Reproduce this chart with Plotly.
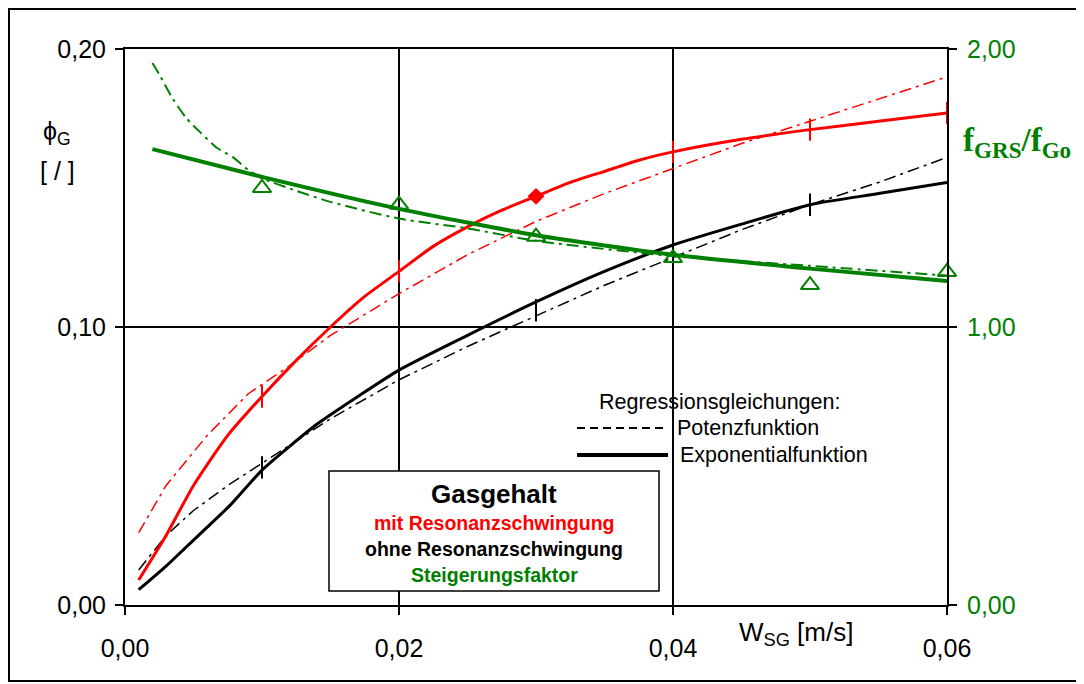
import plotly.graph_objects as go

# ---------------- data ----------------
# Gas holdup with resonance oscillation (exponential regression, solid red)
x_red_exp = [0.001, 0.003, 0.005, 0.0075, 0.01, 0.0125, 0.015, 0.0175, 0.02, 0.0225, 0.025, 0.0275, 0.03, 0.0325, 0.035, 0.0375, 0.04, 0.045, 0.05, 0.055, 0.06]
y_red_exp = [0.009, 0.025, 0.043, 0.061, 0.075, 0.088, 0.100, 0.111, 0.120, 0.129, 0.136, 0.142, 0.147, 0.152, 0.156, 0.160, 0.163, 0.1675, 0.171, 0.174, 0.177]
# with resonance, power regression (dash-dot red)
x_red_pow = [0.001, 0.003, 0.006, 0.009, 0.012, 0.015, 0.02, 0.025, 0.03, 0.035, 0.04, 0.045, 0.05, 0.055, 0.06]
y_red_pow = [0.026, 0.043, 0.061, 0.076, 0.086, 0.097, 0.112, 0.126, 0.138, 0.148, 0.157, 0.166, 0.174, 0.182, 0.190]
# without resonance, exponential (solid black)
x_blk_exp = [0.001, 0.003, 0.0045, 0.006, 0.0077, 0.01, 0.012, 0.014, 0.017, 0.02, 0.025, 0.03, 0.035, 0.04, 0.045, 0.05, 0.055, 0.06]
y_blk_exp = [0.0055, 0.014, 0.021, 0.028, 0.036, 0.0485, 0.057, 0.065, 0.075, 0.0845, 0.097, 0.109, 0.120, 0.1295, 0.137, 0.144, 0.148, 0.152]
# without resonance, power (dash-dot black)
x_blk_pow = [0.001, 0.003, 0.005, 0.0075, 0.01, 0.0125, 0.015, 0.02, 0.025, 0.03, 0.035, 0.04, 0.045, 0.05, 0.055, 0.06]
y_blk_pow = [0.0126, 0.025, 0.034, 0.043, 0.051, 0.059, 0.067, 0.081, 0.093, 0.104, 0.115, 0.125, 0.135, 0.144, 0.152, 0.161]
# increase factor, exponential (solid green, right axis)
x_grn_exp = [0.002, 0.01, 0.02, 0.03, 0.04, 0.05, 0.06]
y_grn_exp = [1.64, 1.54, 1.425, 1.33, 1.26, 1.21, 1.165]
# increase factor, power (dash-dot green)
x_grn_pow = [0.002, 0.0026, 0.0035, 0.0045, 0.0055, 0.0067, 0.0079, 0.009, 0.01, 0.0125, 0.015, 0.02, 0.025, 0.03, 0.04, 0.05, 0.06]
y_grn_pow = [1.95, 1.90, 1.82, 1.75, 1.70, 1.645, 1.61, 1.565, 1.535, 1.49, 1.45, 1.39, 1.355, 1.31, 1.255, 1.22, 1.185]
# measured increase factor (triangles)
x_meas = [0.01, 0.02, 0.03, 0.04, 0.05, 0.06]
y_meas = [1.50, 1.44, 1.325, 1.248, 1.151, 1.198]
# tick marks on curves
x_red_marks = [0.01, 0.02, 0.04, 0.05, 0.06]
y_red_marks = [0.075, 0.120, 0.163, 0.171, 0.177]
x_red_diamond = [0.03]
y_red_diamond = [0.147]
x_blk_marks = [0.01, 0.03, 0.04, 0.05]
y_blk_marks = [0.0495, 0.106, 0.129, 0.144]

RED = "#FF0000"
GREEN = "#008000"
BLACK = "#000000"
DASHDOT = "12px,5px,3px,5px"
FONT = "Liberation Sans, Arial, sans-serif"

fig = go.Figure()

fig.add_trace(go.Scatter(x=x_red_pow, y=y_red_pow, mode="lines", line=dict(color=RED, width=1.5, dash=DASHDOT)))
fig.add_trace(go.Scatter(x=x_blk_pow, y=y_blk_pow, mode="lines", line=dict(color=BLACK, width=1.5, dash=DASHDOT)))
fig.add_trace(go.Scatter(x=x_red_exp, y=y_red_exp, mode="lines", line=dict(color=RED, width=3, shape="spline", smoothing=0.6)))
fig.add_trace(go.Scatter(x=x_blk_exp, y=y_blk_exp, mode="lines", line=dict(color=BLACK, width=3, shape="spline", smoothing=0.6)))
fig.add_trace(go.Scatter(x=x_red_marks, y=y_red_marks, mode="markers", cliponaxis=False,
                         marker=dict(symbol="line-ns", size=16, line=dict(color=RED, width=2))))
fig.add_trace(go.Scatter(x=x_blk_marks, y=y_blk_marks, mode="markers",
                         marker=dict(symbol="line-ns", size=16, line=dict(color=BLACK, width=2))))
fig.add_trace(go.Scatter(x=x_red_diamond, y=y_red_diamond, mode="markers",
                         marker=dict(symbol="diamond", size=13, color=RED)))

fig.add_trace(go.Scatter(x=x_grn_pow, y=y_grn_pow, mode="lines", yaxis="y2",
                         line=dict(color=GREEN, width=2, dash=DASHDOT, shape="spline", smoothing=0.6)))
fig.add_trace(go.Scatter(x=x_grn_exp, y=y_grn_exp, mode="lines", yaxis="y2",
                         line=dict(color=GREEN, width=4, shape="spline", smoothing=0.6)))
fig.add_trace(go.Scatter(x=x_meas, y=y_meas, mode="markers", yaxis="y2", cliponaxis=False,
                         marker=dict(symbol="triangle-up-open", size=16, color=GREEN, line=dict(width=2))))

# page body has an 8px margin: the figure starts at (8, 8) in the screenshot
OFF = 8
W, H = 1084 - OFF, 684 - OFF
PLOT_L, PLOT_R, PLOT_T, PLOT_B = 125, 947, 49, 605   # screenshot pixels
L, T = PLOT_L - OFF, PLOT_T - OFF
R = W - (PLOT_R - OFF)
B = H - (PLOT_B - OFF)
PW, PH = PLOT_R - PLOT_L, PLOT_B - PLOT_T


def px(x):
    return (x - PLOT_L) / PW


def py(y):
    return (PLOT_B - y) / PH


shapes = [
    # outer frame
    dict(type="rect", xref="paper", yref="paper", x0=px(9), x1=px(1081), y0=py(681), y1=py(9),
         line=dict(color=BLACK, width=2), layer="below"),
    # Gasgehalt box
    dict(type="rect", xref="paper", yref="paper", x0=px(329), x1=px(659), y0=py(591), y1=py(471),
         line=dict(color=BLACK, width=1.5), fillcolor="white", layer="above"),
    # regression legend lines
    dict(type="line", xref="paper", yref="paper", x0=px(577), x1=px(668), y0=py(428), y1=py(428),
         line=dict(color=BLACK, width=2, dash="8px,5px")),
    dict(type="line", xref="paper", yref="paper", x0=px(577), x1=px(668), y0=py(455), y1=py(455),
         line=dict(color=BLACK, width=4)),
]

annotations = [
    dict(text="Regressionsgleichungen:", x=px(597), y=py(402), xanchor="left", yanchor="middle",
         font=dict(size=21.5, color=BLACK)),
    dict(text="Potenzfunktion", x=px(675), y=py(428), xanchor="left", yanchor="middle",
         font=dict(size=21.5, color=BLACK)),
    dict(text="Exponentialfunktion", x=px(678), y=py(455), xanchor="left", yanchor="middle",
         font=dict(size=21.5, color=BLACK)),
    dict(text="<b>Gasgehalt</b>", x=px(494), y=py(494), xanchor="center", yanchor="middle",
         font=dict(size=26, color=BLACK)),
    dict(text="<b>mit Resonanzschwingung</b>", x=px(494), y=py(523), xanchor="center", yanchor="middle",
         font=dict(size=19.5, color=RED)),
    dict(text="<b>ohne Resonanzschwingung</b>", x=px(494), y=py(549), xanchor="center", yanchor="middle",
         font=dict(size=19.5, color=BLACK)),
    dict(text="<b>Steigerungsfaktor</b>", x=px(494), y=py(575), xanchor="center", yanchor="middle",
         font=dict(size=19.5, color=GREEN)),
    dict(text="ϕ<sub>G</sub>", x=px(57), y=py(133), xanchor="center", yanchor="middle",
         font=dict(size=25, color=BLACK)),
    dict(text="[ / ]", x=px(57), y=py(171), xanchor="center", yanchor="middle",
         font=dict(size=25, color=BLACK)),
    dict(text="<b>f<sub>GRS</sub>/f<sub>Go</sub></b>", x=px(1017), y=py(143), xanchor="center", yanchor="middle",
         font=dict(size=33, color=GREEN, family="Liberation Serif, Times New Roman, serif")),
    dict(text="W<sub>SG</sub> [m/s]", x=px(796), y=py(633), xanchor="center", yanchor="middle",
         font=dict(size=26, color=BLACK)),
]
for a in annotations:
    a.update(xref="paper", yref="paper", showarrow=False)

fig.update_layout(
    width=W, height=H,
    margin=dict(l=L, r=R, t=T, b=B, autoexpand=False),
    paper_bgcolor="white", plot_bgcolor="white",
    showlegend=False,
    separators=",.",
    font=dict(family=FONT, color=BLACK, size=25),
    shapes=shapes,
    annotations=annotations,
    xaxis=dict(range=[0, 0.06], tickvals=[0, 0.02, 0.04, 0.06], tickformat=".2f",
               showgrid=True, gridcolor=BLACK, gridwidth=2, zeroline=False,
               showline=True, linecolor=BLACK, linewidth=2, mirror=True,
               ticks="outside", ticklen=8, tickcolor=BLACK, tickwidth=2,
               ticklabelstandoff=12, tickfont=dict(size=25, color=BLACK)),
    yaxis=dict(range=[0, 0.2], tickvals=[0, 0.1, 0.2], tickformat=".2f",
               showgrid=True, gridcolor=BLACK, gridwidth=2, zeroline=False,
               showline=True, linecolor=BLACK, linewidth=2, mirror=True,
               ticks="outside", ticklen=8, tickcolor=BLACK, tickwidth=2,
               ticklabelstandoff=4, tickfont=dict(size=25, color=BLACK)),
    yaxis2=dict(range=[0, 2], tickvals=[0, 1, 2], tickformat=".2f", overlaying="y", side="right",
                showgrid=False, zeroline=False,
                showline=True, linecolor=BLACK, linewidth=2,
                ticks="outside", ticklen=8, tickcolor=BLACK, tickwidth=2,
                ticklabelstandoff=5, tickfont=dict(size=25, color=GREEN)),
)

fig.write_html("out.html")
